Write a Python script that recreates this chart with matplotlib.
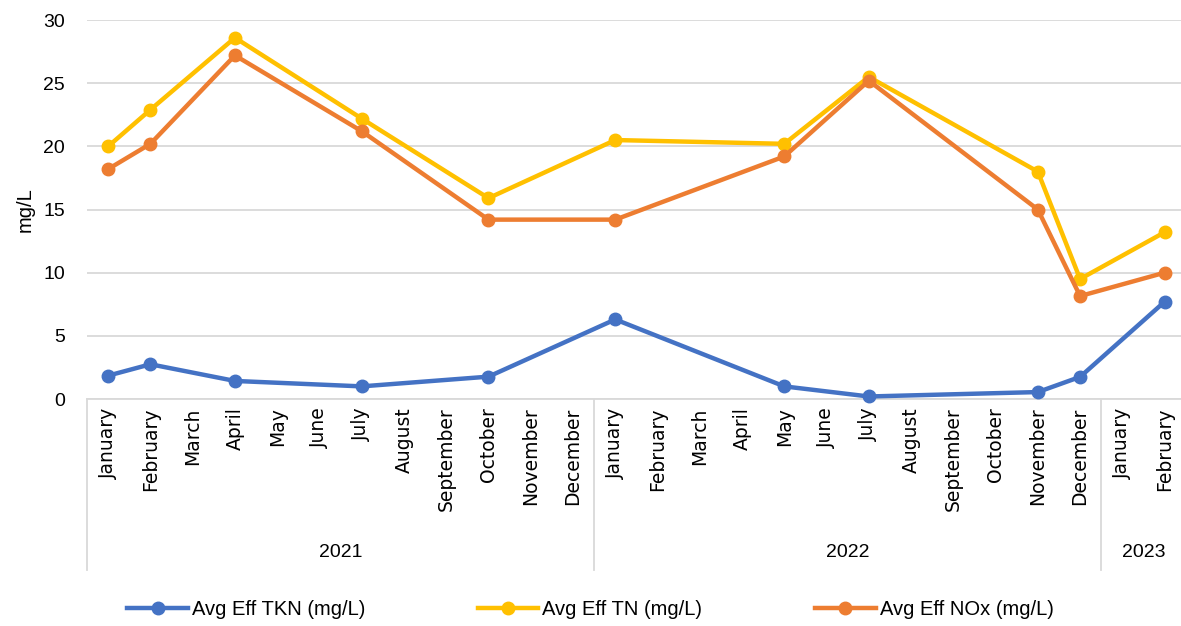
import matplotlib
matplotlib.use("Agg")
import matplotlib.pyplot as plt
import numpy as np
from matplotlib.lines import Line2D

months = ["January", "February", "March", "April", "May", "June", "July", "August",
          "September", "October", "November", "December",
          "January", "February", "March", "April", "May", "June", "July", "August",
          "September", "October", "November", "December",
          "January", "February"]
years = ["2021", "2022", "2023"]
year_counts = [12, 12, 2]

N = None
tkn = [1.85, 2.75, N, 1.43, N, N, 1.0, N, N, 1.77, N, N,
       6.3, N, N, N, 1.0, N, 0.2, N, N, N, 0.55, 1.75,
       N, 7.7]
tn = [20.0, 22.9, N, 28.6, N, N, 22.2, N, N, 15.9, N, N,
      20.5, N, N, N, 20.2, N, 25.5, N, N, N, 18.0, 9.5,
      N, 13.2]
nox = [18.2, 20.2, N, 27.2, N, N, 21.2, N, N, 14.2, N, N,
       14.2, N, N, N, 19.2, N, 25.2, N, N, N, 15.0, 8.15,
       N, 10.0]
series_names = ["Avg Eff TKN (mg/L)", "Avg Eff TN (mg/L)", "Avg Eff NOx (mg/L)"]
colors = ["#4472C4", "#FFC000", "#ED7D31"]

plt.rcParams['font.family'] = ['Liberation Sans', 'DejaVu Sans']

fig = plt.figure(figsize=(11.81, 6.26), dpi=100)
ax = fig.add_axes([0.0737, 0.3626, 0.9303, 0.6054])

x = np.arange(len(months))
for vals, name, col in zip([tkn, tn, nox], series_names, colors):
    xs = [xi for xi, v in zip(x, vals) if v is not None]
    ys = [v for v in vals if v is not None]
    ax.plot(xs, ys, color=col, lw=3.2, marker='o', markersize=9, label=name,
            solid_joinstyle='round', zorder=3, clip_on=False)

ax.set_xlim(-0.5, len(months) - 0.5)
ax.set_ylim(0, 30)
ax.set_yticks([0, 5, 10, 15, 20, 25, 30])
ax.grid(axis='y', color='#D9D9D9', lw=1.3)
ax.set_axisbelow(True)
for s in ['top', 'right', 'left']:
    ax.spines[s].set_visible(False)
ax.spines['bottom'].set_color('#D9D9D9')
ax.spines['bottom'].set_linewidth(1.3)

ax.set_xticks(x)
ax.set_xticklabels(months, rotation=90, fontsize=13.5, va='top', ha='center',
                   family=['DejaVu Sans'])
ax.tick_params(axis='x', length=0, pad=6)
ax.tick_params(axis='y', length=0, pad=16, labelsize=14)
ax.set_ylabel("mg/L", fontsize=14.5, labelpad=6)

# year grouping
trans = ax.get_xaxis_transform()
sep_bottom = -0.451
start = 0
bounds = [-0.5]
for yr, cnt in zip(years, year_counts):
    end = start + cnt
    bounds.append(end - 0.5)
    ax.text((start + end - 1) / 2, -0.405, yr, transform=trans, ha='center', va='center',
            fontsize=14)
    start = end
for b in bounds[:-1]:
    ax.add_line(Line2D([b, b], [0, sep_bottom], transform=trans, color='#D9D9D9',
                       lw=1.3, clip_on=False))

handles = [Line2D([], [], color=c, lw=3.2, marker='o', markersize=9) for c in colors]
fig.legend(handles, series_names, loc='center', bbox_to_anchor=(0.5, 0.026), ncol=3,
           frameon=False, fontsize=14.5, handlelength=3.0, handletextpad=0.2,
           columnspacing=5.6)

fig.savefig("out.png", dpi=100)
